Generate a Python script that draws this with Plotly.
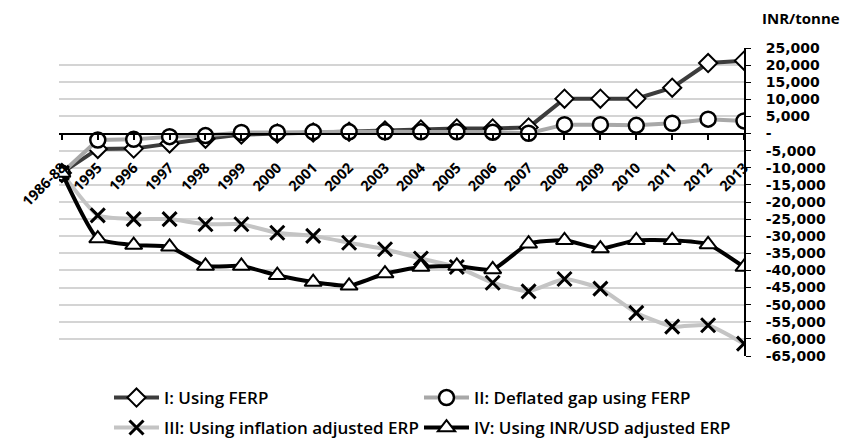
import plotly.graph_objects as go

categories = ["1986-88"] + [str(y) for y in range(1995, 2014)]

ferp = [-11500, -4500, -4400, -2900, -1500, -300, 0, 300, 500, 900, 1200, 1500, 1500, 1800,
        10200, 10200, 10200, 13400, 20600, 21300]
deflated = [-11500, -1900, -1700, -900, -600, 300, 300, 500, 500, 500, 500, 500, 400, 100,
            2600, 2600, 2400, 3000, 4200, 3700]
inflation_adj = [-11500, -23900, -25000, -25000, -26500, -26500, -29000, -29900, -31900, -33800,
                 -36500, -39000, -43600, -46100, -42500, -45300, -52400, -56400, -56000, -61400]
inrusd_adj = [-11500, -30700, -32600, -33100, -38700, -38700, -41400, -43400, -44500, -40900,
              -39000, -38700, -39700, -32200, -31200, -33600, -31200, -31200, -32400, -39000]

names = ["I: Using FERP", "II: Deflated gap using FERP",
         "III: Using inflation adjusted ERP", "IV: Using INR/USD adjusted ERP"]

ytick_vals = list(range(-65000, 25001, 5000))
ytick_text = ["-" if v == 0 else f"{v:,}" for v in ytick_vals]

FONT = "Open Sans"
W, H = 853, 447

fig = go.Figure()
fig.add_trace(go.Scatter(
    x=categories, y=ferp, name=names[0], mode="lines+markers",
    line=dict(color="#3c3c3c", width=4),
    marker=dict(symbol="diamond", size=14, color="white", line=dict(color="black", width=2)),
    legend="legend"))
fig.add_trace(go.Scatter(
    x=categories, y=deflated, name=names[1], mode="lines+markers",
    line=dict(color="#a8a8a8", width=4),
    marker=dict(symbol="circle", size=15, color="white", line=dict(color="black", width=2.5)),
    legend="legend2"))
fig.add_trace(go.Scatter(
    x=categories, y=inflation_adj, name=names[2], mode="lines+markers",
    line=dict(color="#c4c4c4", width=4, shape="spline", smoothing=0.5),
    marker=dict(symbol="x-thin", size=14, color="black", line=dict(color="black", width=3)),
    legend="legend3"))
fig.add_trace(go.Scatter(
    x=categories, y=inrusd_adj, name=names[3], mode="lines+markers",
    line=dict(color="black", width=4, shape="spline", smoothing=0.5),
    marker=dict(symbol="triangle-up", size=15, color="white", line=dict(color="black", width=2)),
    legend="legend4"))

zero_pos = (0 - (-65000)) / 90000


def leg(px, py):
    return dict(orientation="h", xref="container", yref="container",
                x=px / W, y=1 - py / H, xanchor="left", yanchor="middle",
                itemwidth=45,
                font=dict(family=FONT, size=17, weight=600), bgcolor="rgba(0,0,0,0)",
                borderwidth=0)


fig.update_layout(
    width=W, height=H, showlegend=True,
    margin=dict(l=59, r=109, t=48, b=91, autoexpand=False),
    paper_bgcolor="white", plot_bgcolor="white",
    font=dict(family=FONT, color="black", size=14),
    xaxis=dict(
        type="category", range=[-0.08, 19], anchor="free", position=zero_pos,
        showgrid=False, showline=True, linecolor="black", linewidth=2,
        ticks="outside", ticklen=5, tickcolor="black", tickwidth=1.5,
        tickangle=-45, ticklabelstandoff=14,
        tickfont=dict(family=FONT, size=14.5, weight=700),
    ),
    yaxis=dict(
        side="right", range=[-65000, 25000], tickvals=ytick_vals, ticktext=ytick_text,
        showgrid=True, gridcolor="#d4d4d4", gridwidth=2, zeroline=False,
        showline=True, linecolor="black", linewidth=2,
        ticks="outside", ticklen=5, tickcolor="black", ticklabelstandoff=12,
        tickfont=dict(family="DejaVu Sans", size=14, weight=700),
    ),
    legend=leg(109, 398),
    legend2=leg(419, 398),
    legend3=leg(109, 428),
    legend4=leg(419, 428),
    annotations=[dict(text="INR/tonne", xref="paper", yref="paper", x=1.0, y=1.0,
                      xshift=16, yshift=18, xanchor="left", yanchor="bottom", showarrow=False,
                      font=dict(family=FONT, size=15, weight=700))],
)

fig.write_html("out.html")
